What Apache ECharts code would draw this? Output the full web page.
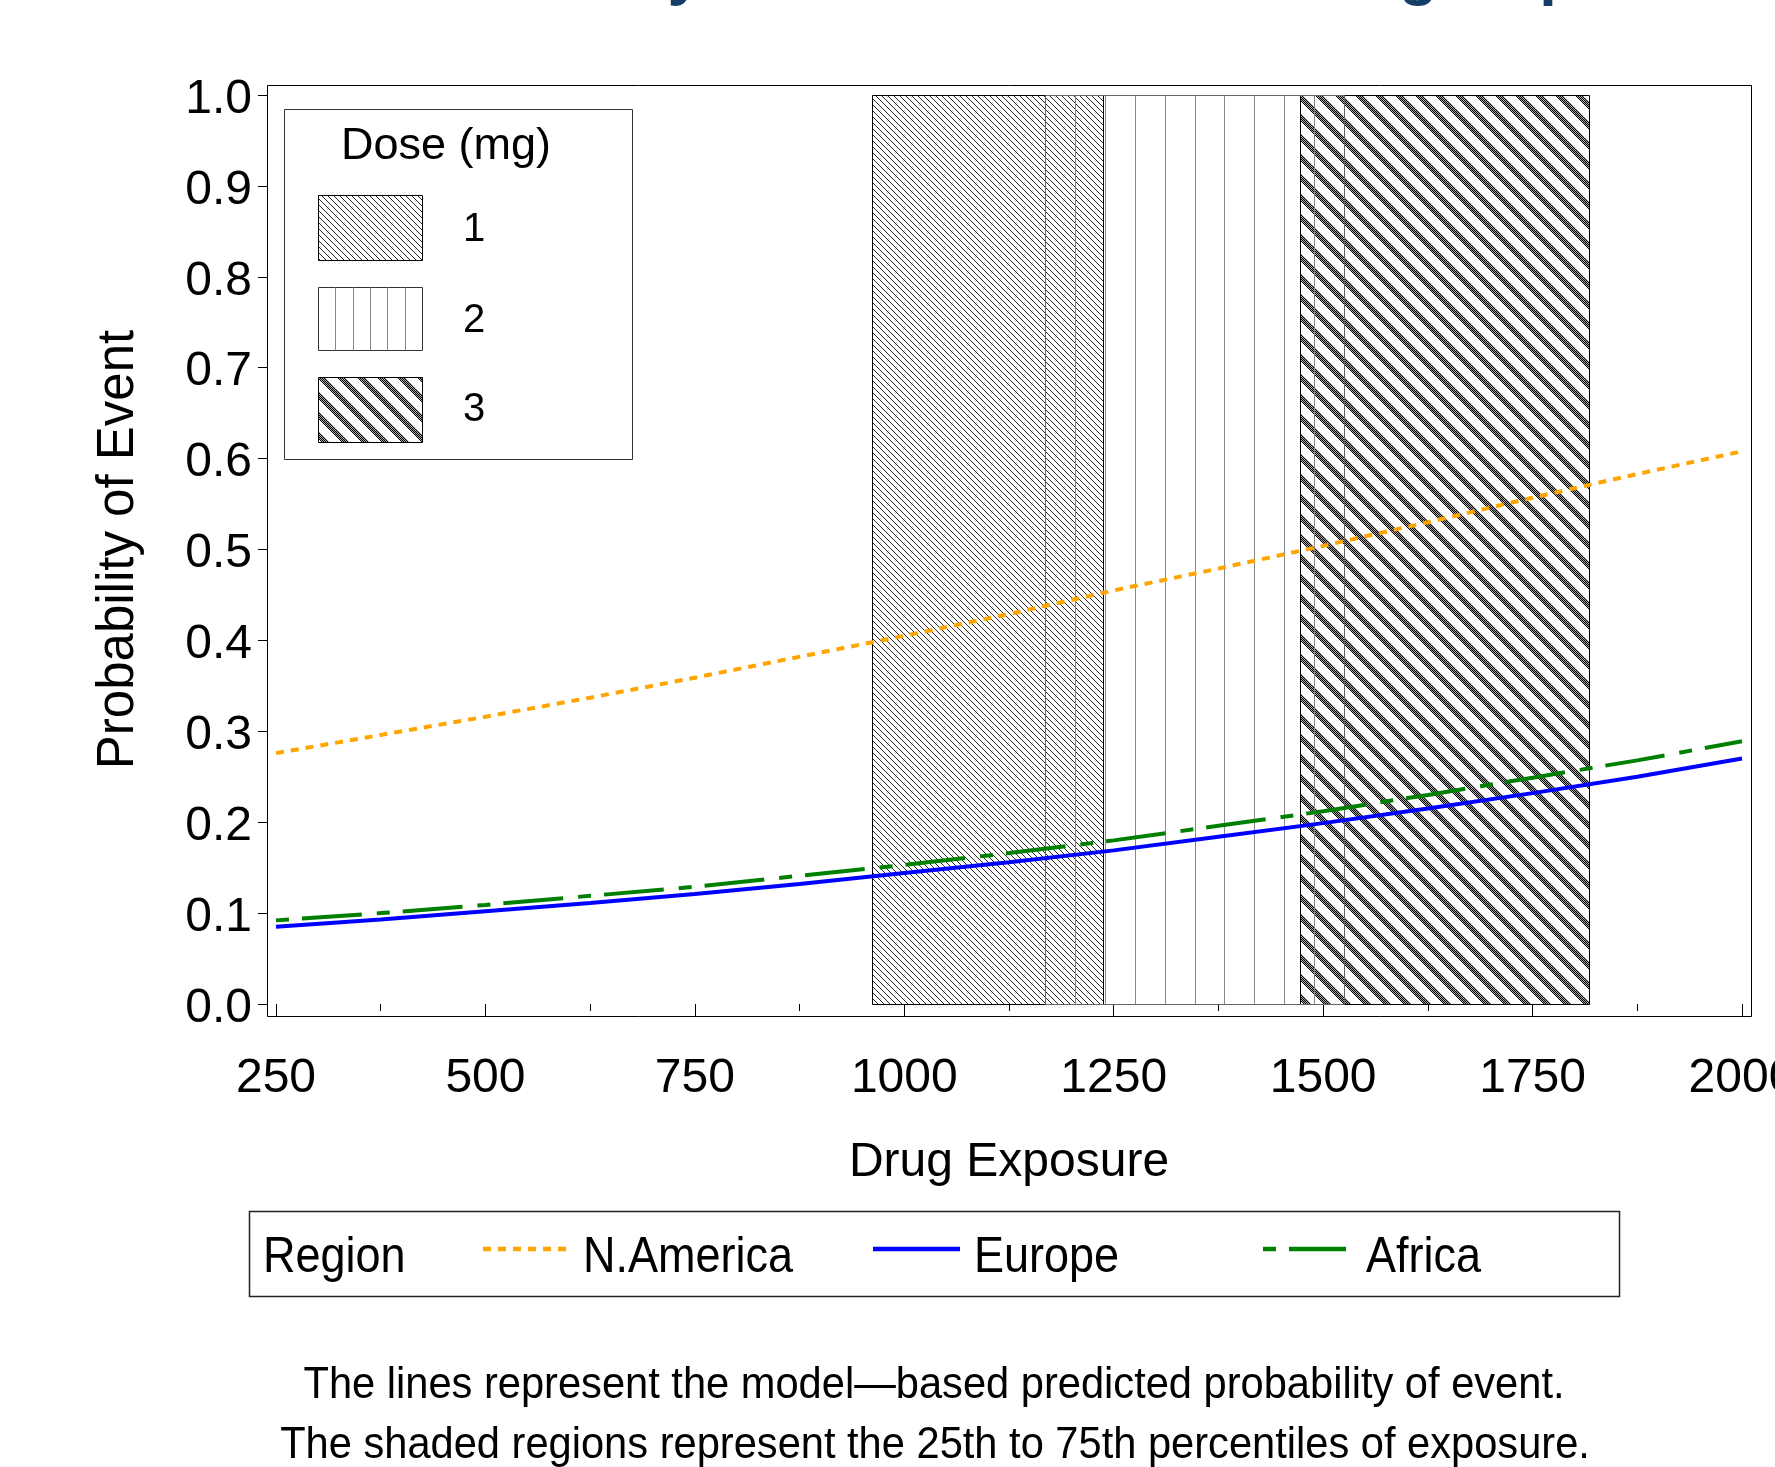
<!DOCTYPE html>
<html>
<head>
<meta charset="utf-8">
<title>Probability of Event by Drug Exposure</title>
<script src="https://cdn.jsdelivr.net/npm/echarts@6/dist/echarts.min.js"></script>
<style>
    html, body { margin: 0; padding: 0; background: #fff; }
    #probabilityChart { width: 1775px; height: 1467px; }
</style>
</head>
<body>
<div id="probabilityChart"></div>
<script>
// exposure values the curves were read at
var exposure = [250, 375, 500, 625, 750, 875, 1000, 1125, 1250, 1375, 1500, 1625, 1750, 1875, 2000];
var northAmerica = [0.276, 0.296, 0.316, 0.337, 0.359, 0.382, 0.405, 0.429, 0.455, 0.479, 0.504, 0.530, 0.557, 0.583, 0.608];
var europe = [0.085, 0.093, 0.102, 0.111, 0.121, 0.132, 0.144, 0.156, 0.169, 0.184, 0.199, 0.215, 0.232, 0.250, 0.270];
var africa = [0.092, 0.100, 0.109, 0.119, 0.129, 0.141, 0.153, 0.166, 0.180, 0.196, 0.212, 0.230, 0.249, 0.268, 0.289];

// 25th to 75th percentile of exposure for each dose
var doses = ['1', '2', '3'];
var doseP25 = [961, 1168, 1472];
var doseP75 = [1237, 1525, 1817];
var doseTop = 1.0;

var xTicks = [250, 500, 750, 1000, 1250, 1500, 1750, 2000];
var yTicks = [0.0, 0.1, 0.2, 0.3, 0.4, 0.5, 0.6, 0.7, 0.8, 0.9, 1.0];

var FONT = '"Liberation Sans", Arial, sans-serif';
var orangeDash = [8, 7];
var greenDash = [13, 13, 60, 15];

// small pixel tiles used as fill patterns for the dose bands
makeTile = (size, paint) => {
    var c = document.createElement('canvas');
    c.width = size;
    c.height = size;
    var ctx = c.getContext('2d');
    var img = ctx.createImageData(size, size);
    for (var y = 0; y < size; y++) {
        for (var x = 0; x < size; x++) {
            var v = paint(x, y);
            var k = (y * size + x) * 4;
            img.data[k] = v;
            img.data[k + 1] = v;
            img.data[k + 2] = v;
            img.data[k + 3] = 255;
        }
    }
    ctx.putImageData(img, 0, 0);
    return { image: c, repeat: 'repeat' };
}

var fineHatch = makeTile(6, (x, y) => (((x - y) % 6 + 6) % 6 === 0 ? 40 : 255));
var wideHatch = makeTile(20, (x, y) => {
    var d = ((x - y) % 20 + 20) % 20;
    if (d >= 8) return 255;
    return (x + y) % 2 === 0 ? 0 : 165;
});

renderDoseBand = (params, api) => {
    var a = api.coord([api.value(0), api.value(2)]);
    var b = api.coord([api.value(1), 0]);
    var x0 = Math.round(a[0]) + 0.5, x1 = Math.round(b[0]) + 0.5;
    var y0 = Math.round(a[1]) + 0.5, y1 = Math.round(b[1]) + 0.5;
    var i = params.dataIndex;
    if (i === 1) {
        var kids = [{
            type: 'rect', z2: 10,
            shape: { x: x0, y: y0, width: x1 - x0, height: y1 - y0 },
            style: { fill: 'none', stroke: '#666', lineWidth: 1 }
        }];
        for (var k = 1; k < 10; k++) {
            var lx = Math.round(a[0] + (b[0] - a[0]) * k / 10) + 0.5;
            kids.push({
                type: 'line', z2: 10,
                shape: { x1: lx, y1: y0, x2: lx, y2: y1 },
                style: { stroke: '#888', lineWidth: 1 }
            });
        }
        return { type: 'group', children: kids };
    }
    return {
        type: 'rect',
        shape: { x: x0, y: y0, width: x1 - x0, height: y1 - y0 },
        style: { fill: i === 0 ? fineHatch : wideHatch, stroke: '#000', lineWidth: 1 }
    };
}

var lineSeries = (name, values, color, dash) => ({
    name: name,
    type: 'line',
    z: 3,
    data: exposure.map((x, i) => [x, values[i]]),
    symbol: 'none',
    showSymbol: false,
    lineStyle: { color: color, width: 4, type: dash, cap: 'butt' }
});

// legends are drawn by hand so they sit where the original puts them
var doseLegend = [
    { type: 'rect', z: 4, shape: { x: 284.5, y: 109.5, width: 348, height: 350 }, style: { fill: '#fff', stroke: '#333', lineWidth: 1 } },
    { type: 'text', z: 4, x: 446, y: 147, style: { text: 'Dose (mg)', font: '45px ' + FONT, fill: '#000', textAlign: 'center', textVerticalAlign: 'middle' } },
    { type: 'rect', z: 4, shape: { x: 318.5, y: 195.5, width: 104, height: 65 }, style: { fill: fineHatch, stroke: '#000', lineWidth: 1 } },
    { type: 'rect', z: 4, shape: { x: 318.5, y: 287.5, width: 104, height: 63 }, style: { fill: '#fff', stroke: '#333', lineWidth: 1 } },
    { type: 'rect', z: 4, shape: { x: 318.5, y: 377.5, width: 104, height: 65 }, style: { fill: wideHatch, stroke: '#000', lineWidth: 1 } }
];
for (var k = 1; k < 6; k++) {
    var sx = Math.round(318 + 104 * k / 6) + 0.5;
    doseLegend.push({ type: 'line', z: 4, shape: { x1: sx, y1: 287.5, x2: sx, y2: 350.5 }, style: { stroke: '#888', lineWidth: 1 } });
}
var doseLabelY = [230, 321, 410];
doses.forEach((d, i) => {
    doseLegend.push({ type: 'text', z: 4, x: 474, y: doseLabelY[i], style: { text: d, font: '40px ' + FONT, fill: '#000', textAlign: 'center', textVerticalAlign: 'middle' } });
});

var regionLegend = [
    { type: 'rect', shape: { x: 249.5, y: 1211.5, width: 1370, height: 85 }, style: { fill: 'none', stroke: '#222', lineWidth: 1.5 } },
    { type: 'text', x: 263, y: 1258, scaleX: 0.9, style: { text: 'Region', font: '50px ' + FONT, fill: '#000', textVerticalAlign: 'middle' } },
    { type: 'line', shape: { x1: 483, y1: 1249, x2: 569, y2: 1249 }, style: { stroke: '#FFA500', lineWidth: 4.5, lineDash: orangeDash } },
    { type: 'text', x: 583, y: 1258, scaleX: 0.9, style: { text: 'N.America', font: '50px ' + FONT, fill: '#000', textVerticalAlign: 'middle' } },
    { type: 'line', shape: { x1: 873, y1: 1249, x2: 960, y2: 1249 }, style: { stroke: '#0000FF', lineWidth: 4.5 } },
    { type: 'text', x: 974, y: 1258, scaleX: 0.9, style: { text: 'Europe', font: '50px ' + FONT, fill: '#000', textVerticalAlign: 'middle' } },
    { type: 'line', shape: { x1: 1263, y1: 1249, x2: 1346, y2: 1249 }, style: { stroke: '#008000', lineWidth: 4.5, lineDash: greenDash } },
    { type: 'text', x: 1366, y: 1258, scaleX: 0.9, style: { text: 'Africa', font: '50px ' + FONT, fill: '#000', textVerticalAlign: 'middle' } }
];

var notes = [
    { type: 'text', x: 934, y: 1386, scaleX: 0.925, style: { text: 'The lines represent the model\u2014based predicted probability of event.', font: '45px ' + FONT, fill: '#000', textAlign: 'center', textVerticalAlign: 'middle' } },
    { type: 'text', x: 935, y: 1446, scaleX: 0.925, style: { text: 'The shaded regions represent the 25th to 75th percentiles of exposure.', font: '45px ' + FONT, fill: '#000', textAlign: 'center', textVerticalAlign: 'middle' } }
];

var myChart = echarts.init(document.getElementById('probabilityChart'));
var option = {
    animation: false,
    backgroundColor: '#fff',
    textStyle: { fontFamily: FONT },
    grid: { left: 276, right: 33, top: 95, bottom: 463, containLabel: false, outerBoundsMode: 'none' },
    xAxis: {
        type: 'value',
        min: xTicks[0],
        max: xTicks[xTicks.length - 1],
        interval: xTicks[1] - xTicks[0],
        offset: 13,
        name: 'Drug Exposure',
        nameLocation: 'middle',
        nameGap: 122,
        nameTextStyle: { fontSize: 48, color: '#000', fontFamily: FONT },
        axisLine: { show: false },
        axisTick: { show: true, length: 13, lineStyle: { color: '#000', width: 1 } },
        minorTick: { show: true, splitNumber: 2, length: 7, lineStyle: { color: '#000', width: 1 } },
        splitLine: { show: false },
        axisLabel: { fontSize: 48, color: '#000', margin: 38, fontFamily: FONT, formatter: (v) => String(v) }
    },
    yAxis: {
        type: 'value',
        min: yTicks[0],
        max: yTicks[yTicks.length - 1],
        interval: 0.1,
        offset: 9,
        name: 'Probability of Event',
        nameLocation: 'middle',
        nameGap: 123,
        nameTextStyle: { fontSize: 51, color: '#000', fontFamily: FONT },
        axisLine: { show: false },
        axisTick: { show: true, length: 9, lineStyle: { color: '#000', width: 1 } },
        splitLine: { show: false },
        axisLabel: {
            fontSize: 48, color: '#000', margin: 15, fontFamily: FONT,
            verticalAlign: 'top', lineHeight: 9,
            formatter: (v) => v.toFixed(1)
        }
    },
    graphic: [
        { type: 'text', x: 377, y: -24, style: { text: 'Probability of Event in Each Dose group', font: 'bold 63px ' + FONT, fill: '#163d66', textVerticalAlign: 'middle' } },
        { type: 'rect', z: 5, silent: true, shape: { x: 267.5, y: 85.5, width: 1484, height: 931 }, style: { fill: 'none', stroke: '#000', lineWidth: 1 } }
    ].concat(doseLegend, regionLegend, notes),
    series: [
        {
            name: 'Dose',
            type: 'custom',
            z: 1,
            silent: true,
            renderItem: renderDoseBand,
            encode: { x: [0, 1], y: 2 },
            data: doses.map((d, i) => [doseP25[i], doseP75[i], doseTop, i])
        },
        lineSeries('N.America', northAmerica, '#FFA500', orangeDash),
        lineSeries('Europe', europe, '#0000FF', 'solid'),
        lineSeries('Africa', africa, '#008000', greenDash)
    ]
};
if (option && typeof option === "object") {
    myChart.setOption(option, true);
}

window.addEventListener('resize', function () {
    myChart.resize();
})
</script>
</body>
</html>
